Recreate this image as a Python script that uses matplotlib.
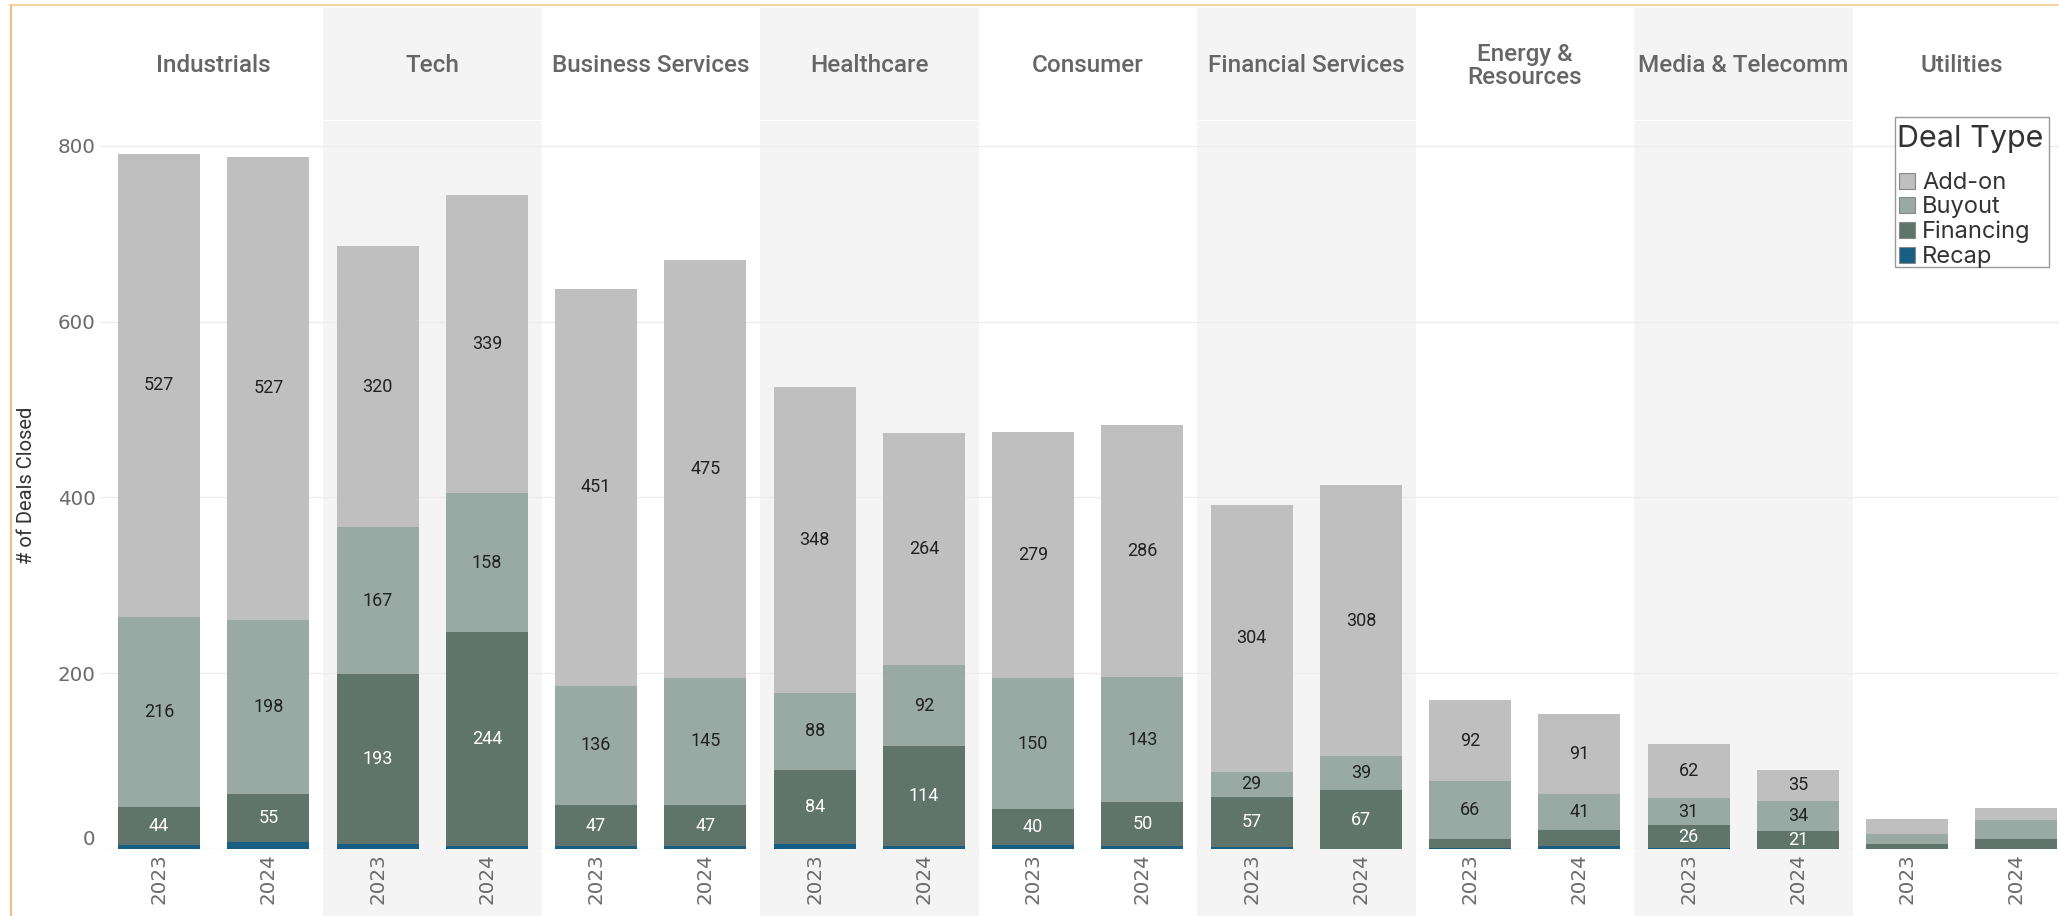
import numpy as np
import matplotlib.pyplot as plt
from matplotlib.patches import Rectangle
from matplotlib.lines import Line2D

plt.rcParams['font.family'] = 'Roboto'

# deals closed per sector, 2023 and 2024
sectors = ['Industrials', 'Tech', 'Business Services', 'Healthcare', 'Consumer',
           'Financial Services', 'Energy &\nResources', 'Media & Telecomm', 'Utilities']
years = ['2023', '2024']
deal_types = ['Add-on', 'Buyout', 'Financing', 'Recap']

addon_2023 = [527, 320, 451, 348, 279, 304, 92, 62, 17]
addon_2024 = [527, 339, 475, 264, 286, 308, 91, 35, 14]
buyout_2023 = [216, 167, 136, 88, 150, 29, 66, 31, 11]
buyout_2024 = [198, 158, 145, 92, 143, 39, 41, 34, 22]
financing_2023 = [44, 193, 47, 84, 40, 57, 10, 26, 6]
financing_2024 = [55, 244, 47, 114, 50, 67, 19, 21, 11]
recap_2023 = [4, 6, 3, 6, 5, 2, 1, 1, 0]
recap_2024 = [8, 3, 3, 3, 3, 0, 3, 0, 0]

y_ticks = [0, 200, 400, 600, 800]

colors = {'Add-on': '#bfbfbf', 'Buyout': '#98aaa3',
          'Financing': '#5f756c', 'Recap': '#165e83'}
shade = '#f4f4f4'
no_label = ['Utilities']

# pixel helpers
W, H = 2059, 916
def fx(x):
    return x / W
def fy(y):
    return 1 - y / H

panel = 218.5          # px per sector
px_unit = 0.8788       # px per deal
ax_left, ax_right, ax_top, ax_bot = 100, 2071, 121, 849

fig = plt.figure(figsize=(W / 100, H / 100), dpi=100)

ax = fig.add_axes([fx(ax_left), fy(ax_bot), (ax_right - ax_left) / W, (ax_bot - ax_top) / H])
ax.set_xlim(-0.5 - 4.5 / panel, 8.5)
ax.set_ylim(0, (ax_bot - ax_top) / px_unit)

hax = fig.add_axes([fx(ax_left), fy(119.5), (ax_right - ax_left) / W, (119.5 - 8) / H])
hax.set_xlim(ax.get_xlim())
hax.set_ylim(0, 1)
hax.axis('off')

# alternating panel shading
band = (916 - ax_bot) / (ax_bot - ax_top)
for i in range(1, len(sectors), 2):
    ax.axvspan(i - 0.5, i + 0.5, ymin=-band, ymax=1, color=shade, lw=0, zorder=0, clip_on=False)
    hax.axvspan(i - 0.5, i + 0.5, color=shade, lw=0, zorder=0)

for i, name in enumerate(sectors):
    hax.text(i, 0.48, name, ha='center', va='center', fontsize=17.5, fontweight='medium',
             color='#666666', linespacing=1.05)

x = np.arange(len(sectors))
x23 = x - 0.25
x24 = x + 0.25
bar_w = 0.375

stacks = [
    (x23, {'Recap': recap_2023, 'Financing': financing_2023, 'Buyout': buyout_2023, 'Add-on': addon_2023}),
    (x24, {'Recap': recap_2024, 'Financing': financing_2024, 'Buyout': buyout_2024, 'Add-on': addon_2024}),
]
for xs, series in stacks:
    bottom = np.zeros(len(sectors))
    for name in ['Recap', 'Financing', 'Buyout', 'Add-on']:
        vals = np.array(series[name])
        ax.bar(xs, vals, bar_w, bottom=bottom, color=colors[name], lw=0, zorder=2)
        for xi, b, v, sec in zip(xs, bottom, vals, sectors):
            if v >= 20 and sec not in no_label:
                ax.text(xi, b + v / 2, str(v), ha='center', va='center', fontsize=13,
                        color='white' if name == 'Financing' else '#222222', zorder=3)
        bottom += vals

# axes styling
for s in ax.spines.values():
    s.set_visible(False)
ax.set_axisbelow(True)
ax.yaxis.grid(True, color='#ececec', lw=1.0)
ax.xaxis.grid(False)

ax.set_yticks(y_ticks, labels=[str(t) for t in y_ticks], fontfamily='DejaVu Sans',
              fontsize=14.3, color='#6b6b6b')
ax.tick_params(axis='y', length=0, pad=3)
ax.get_yticklabels()[0].set_verticalalignment('bottom')

ticks = np.ravel(np.column_stack([x23, x24]))
ax.set_xticks(ticks, labels=years * len(sectors), rotation=90, fontfamily='DejaVu Sans',
              fontsize=14.3, color='#6b6b6b')
ax.tick_params(axis='x', length=0, pad=3)

fig.text(fx(27), fy(485), '# of Deals Closed', rotation=90, ha='center', va='center',
         fontsize=14.5, color='#333333')

# outer frame lines
fig.add_artist(Line2D([fx(10.5), fx(10.5)], [fy(5), 0], color='#f7b15c', lw=1.2,
                      transform=fig.transFigure))
fig.add_artist(Line2D([fx(10), 1], [fy(5), fy(5)], color='#f9c98a', lw=1.2,
                      transform=fig.transFigure))

# legend
fig.add_artist(Rectangle((fx(1895), fy(267)), (2049 - 1895) / W, (267 - 117) / H,
                         facecolor='white', edgecolor='#999999', lw=1.0,
                         transform=fig.transFigure, zorder=5))
fig.text(fx(1897), fy(147), 'Deal Type', fontfamily='Inter', fontsize=22, color='#333333',
         ha='left', va='baseline', zorder=6)
for k, name in enumerate(deal_types):
    top = 172.7 + 24.7 * k
    fig.add_artist(Rectangle((fx(1899), fy(top + 16)), 16 / W, 16 / H,
                             facecolor=colors[name], edgecolor='#888888', lw=0.8,
                             transform=fig.transFigure, zorder=6))
    fig.text(fx(1922), fy(top + 16), name, fontfamily='Inter', fontsize=17, color='#333333',
             ha='left', va='baseline', zorder=6)

fig.savefig('out.png', dpi=100)
